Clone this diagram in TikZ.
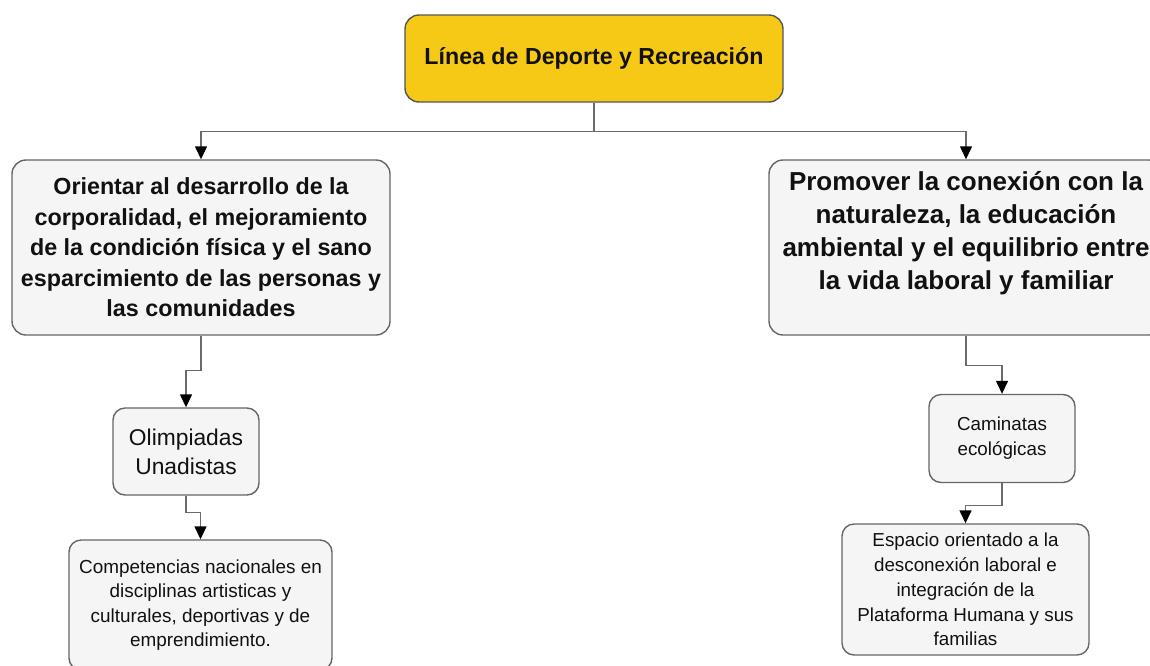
\documentclass[tikz,border=0pt]{standalone}
\usepackage{fontspec}
\setmainfont{Liberation Sans}
\usetikzlibrary{arrows.meta}
\definecolor{boxfill}{HTML}{F5F5F5}
\definecolor{boxline}{HTML}{666666}
\definecolor{rootfill}{HTML}{F6C917}
\definecolor{rootline}{HTML}{555555}
\definecolor{linkline}{HTML}{6A6A6A}
\definecolor{txt}{HTML}{111111}

\begin{document}
\begin{tikzpicture}[x=1pt, y=-1pt, line width=1.4pt,
    main/.style = {draw=boxline, fill=boxfill, rounded corners=14pt, align=center, text=txt, inner sep=0pt},
    root/.style = {main, draw=rootline, fill=rootfill},
    link/.style = {draw=linkline, -{Triangle[width=12pt,length=13pt,color=black]}} ]
        \useasboundingbox (0,0) rectangle (1150,665);

        \node[root, minimum width=378pt, minimum height=87pt, font=\fontsize{23.2}{28}\selectfont\bfseries] (linea) at (594,58.5)
            {Línea de Deporte y Recreación};
        \node[main, minimum width=378pt, minimum height=175pt, font=\fontsize{23.3}{30.5}\selectfont\bfseries] (orientar) at (201,247.5)
            {Orientar al desarrollo de la\\ corporalidad, el mejoramiento\\ de la condición física y el sano\\ esparcimiento de las personas y\\ las comunidades};
        \node[main, minimum width=394pt, minimum height=175pt, font=\fontsize{26}{33}\selectfont\bfseries] (promover) at (966,247.5)
            {Promover la conexión con la\\ naturaleza, la educación\\ ambiental y el equilibrio entre\\ la vida laboral y familiar\\[2pt] \mbox{}};
        \node[main, rounded corners=12pt, minimum width=146pt, minimum height=87pt, font=\fontsize{22.8}{29}\selectfont] (olimpiadas) at (186,451.5)
            {Olimpiadas\\ Unadistas};
        \node[main, rounded corners=12pt, minimum width=263pt, minimum height=130pt, font=\fontsize{18.9}{24.5}\selectfont] (competencias) at (200.5,605)
            {Competencias nacionales en\\ disciplinas artisticas y\\ culturales, deportivas y de\\ emprendimiento.};
        \node[main, rounded corners=12pt, minimum width=146pt, minimum height=88pt, font=\fontsize{18.8}{25}\selectfont] (caminatas) at (1002,438.5)
            {Caminatas\\ ecológicas};
        \node[main, rounded corners=12pt, minimum width=247pt, minimum height=131pt, font=\fontsize{18.8}{24.8}\selectfont] (espacio) at (965.5,589.5)
            {Espacio orientado a la\\ desconexión laboral e\\ integración de la\\ Plataforma Humana y sus\\ familias};

        \draw[link] (linea.south) -- ++(0,29) -| (orientar.north);
        \draw[link] (linea.south) -- ++(0,29) -| (promover.north);
        \draw[link] (orientar.south) -- ++(0,35) -| (olimpiadas.north);
        \draw[link] (olimpiadas.south) -- ++(0,17) -| (competencias.north);
        \draw[link] (promover.south) -- ++(0,30) -| (caminatas.north);
        \draw[link] (caminatas.south) -- ++(0,22.5) -| (espacio.north);

    \end{tikzpicture}
\end{document}
